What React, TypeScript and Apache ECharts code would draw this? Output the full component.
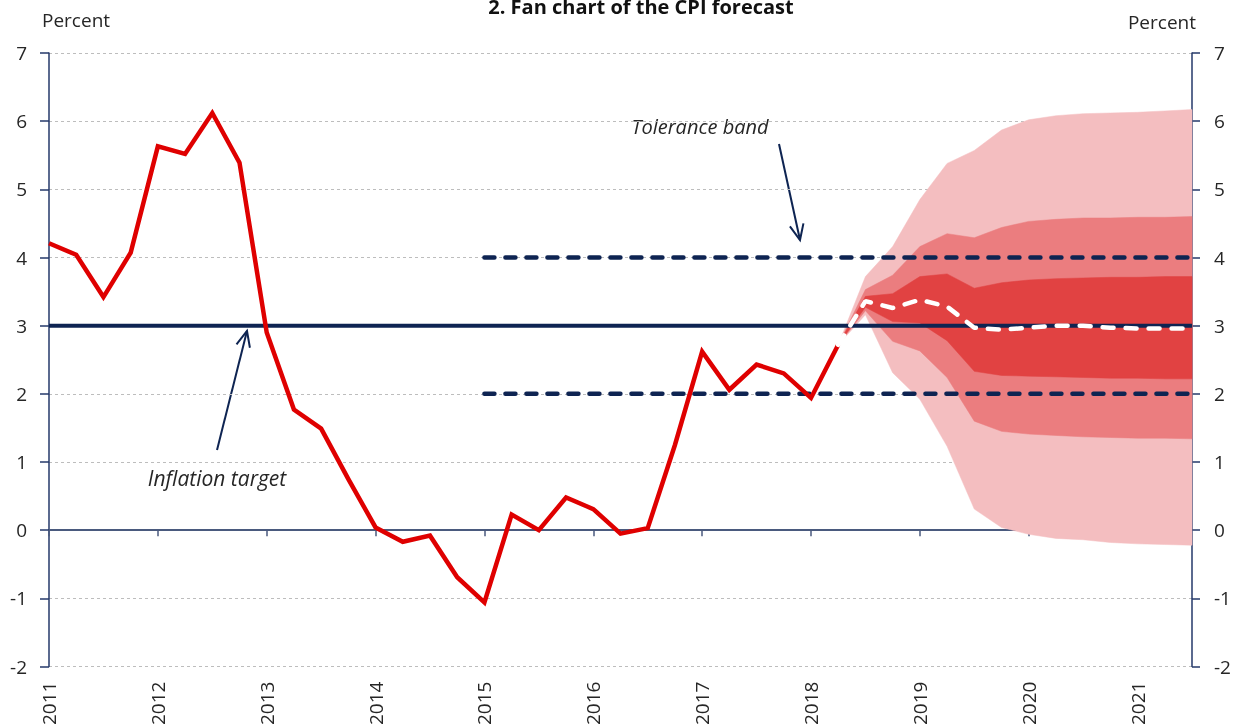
import { useEffect, useRef } from "react";
import * as echarts from "echarts";

// ---- Data ----
const FIRST_YEAR = 2011; // first quarter = 2011 Q1, quarterly data
const LAST_X = 2021.5; // 2021 Q3
const yearTicks = [2011, 2012, 2013, 2014, 2015, 2016, 2017, 2018, 2019, 2020, 2021];

// CPI outcome, 2011Q1 .. 2018Q2
const cpi = [
  4.21, 4.04, 3.42, 4.07, 5.63, 5.52, 6.12, 5.39, 2.9, 1.77, 1.49, 0.75, 0.04, -0.17, -0.08,
  -0.69, -1.06, 0.23, 0.0, 0.48, 0.31, -0.05, 0.03, 1.25, 2.62, 2.06, 2.43, 2.3, 1.94, 2.72,
];

// Forecast & fan bands, 2018Q2 .. 2021Q3
const forecast = [2.72, 3.36, 3.26, 3.38, 3.28, 2.97, 2.94, 2.97, 3.0, 3.0, 2.97, 2.96, 2.96, 2.96];
const outerUpper = [2.72, 3.72, 4.16, 4.85, 5.38, 5.57, 5.87, 6.02, 6.08, 6.11, 6.12, 6.13, 6.15, 6.17];
const midUpper = [2.72, 3.53, 3.74, 4.16, 4.35, 4.29, 4.44, 4.53, 4.56, 4.58, 4.58, 4.59, 4.59, 4.6];
const innerUpper = [2.72, 3.43, 3.47, 3.72, 3.76, 3.55, 3.63, 3.67, 3.69, 3.7, 3.71, 3.71, 3.72, 3.72];
const innerLower = [2.72, 3.27, 3.06, 3.04, 2.78, 2.33, 2.27, 2.26, 2.25, 2.24, 2.23, 2.23, 2.22, 2.22];
const midLower = [2.72, 3.22, 2.77, 2.63, 2.24, 1.6, 1.45, 1.41, 1.39, 1.37, 1.36, 1.35, 1.35, 1.34];
const outerLower = [2.72, 3.16, 2.31, 1.92, 1.23, 0.31, 0.04, -0.06, -0.12, -0.14, -0.18, -0.2, -0.21, -0.22];

const inflationTarget = 3;
const toleranceUpper = 4;
const toleranceLower = 2;
const toleranceStart = 2015;

// ---- Styles ----
const FONT = "'Open Sans', sans-serif";
const NAVY = "#0E2452";
const RED = "#DF0000";
const LIGHT = "#F4BEC0";
const MID = "#EB7D7F";
const DARK = "#E14242";

const qx = (i: number) => FIRST_YEAR + i * 0.25;
const FC_START = cpi.length - 1;

function arrow(x1: number, y1: number, x2: number, y2: number) {
  const dx = x2 - x1;
  const dy = y2 - y1;
  const len = Math.sqrt(dx * dx + dy * dy);
  const ux = dx / len;
  const uy = dy / len;
  const head = 17;
  const ang = (24 * Math.PI) / 180;
  const bx = -ux;
  const by = -uy;
  const w1 = [x2 + head * (bx * Math.cos(ang) - by * Math.sin(ang)), y2 + head * (bx * Math.sin(ang) + by * Math.cos(ang))];
  const w2 = [x2 + head * (bx * Math.cos(-ang) - by * Math.sin(-ang)), y2 + head * (bx * Math.sin(-ang) + by * Math.cos(-ang))];
  return {
    type: "group",
    children: [
      { type: "line", shape: { x1, y1, x2, y2 }, style: { stroke: NAVY, lineWidth: 2 } },
      { type: "polyline", shape: { points: [w1, [x2, y2], w2] }, style: { stroke: NAVY, lineWidth: 2, fill: null } },
    ],
  };
}

export default function App() {
  const ref = useRef<HTMLDivElement>(null);

  useEffect(() => {
    const chart = echarts.init(ref.current!, null, { renderer: "svg" });

    const fcX = forecast.map((_, k) => qx(FC_START + k));
    const fanBands = [
      { upper: outerUpper, lower: outerLower, color: LIGHT },
      { upper: midUpper, lower: midLower, color: MID },
      { upper: innerUpper, lower: innerLower, color: DARK },
    ];

    const axisLabelY = { fontFamily: FONT, fontSize: 19, color: "#262626" };
    const dashStyle = { color: NAVY, width: 4.5, type: [10, 11], cap: "round" };

    chart.setOption({
      animation: false,
      grid: { left: 49, right: 43, top: 53, bottom: 60 },
      xAxis: [
        {
          type: "value",
          min: FIRST_YEAR,
          max: LAST_X,
          interval: 1,
          position: "bottom",
          axisLine: { show: false, onZero: false },
          axisTick: { show: false },
          splitLine: { show: false },
          axisLabel: {
            rotate: 90,
            margin: 15,
            fontFamily: FONT,
            fontSize: 19,
            color: "#262626",
            customValues: yearTicks,
            formatter: (v: number) => String(v),
          },
        },
        {
          type: "value",
          min: FIRST_YEAR,
          max: LAST_X,
          interval: 1,
          position: "top",
          axisLine: { show: true, onZero: true, lineStyle: { color: "#4A5A7E", width: 2 } },
          axisTick: { show: true, inside: true, length: 6, customValues: yearTicks, lineStyle: { color: "#4A5A7E", width: 1.5 } },
          axisLabel: { show: false },
          splitLine: { show: false },
        },
      ],
      yAxis: [
        {
          type: "value",
          min: -2,
          max: 7,
          interval: 1,
          position: "left",
          axisLine: { show: true, onZero: false, lineStyle: { color: "#24396A", width: 1.5 } },
          axisTick: { show: true, length: 9, lineStyle: { color: "#24396A", width: 1.5 } },
          axisLabel: { ...axisLabelY, margin: 22 },
          splitLine: { show: true, lineStyle: { color: "#BDBDBD", width: 1, type: [3, 3] } },
        },
        {
          type: "value",
          min: -2,
          max: 7,
          interval: 1,
          position: "right",
          axisLine: { show: true, onZero: false, lineStyle: { color: "#24396A", width: 1.5 } },
          axisTick: { show: true, length: 8, lineStyle: { color: "#24396A", width: 1.5 } },
          axisLabel: { ...axisLabelY, margin: 22 },
          splitLine: { show: false },
        },
      ],
      series: [
        {
          type: "custom",
          name: "Fan",
          xAxisIndex: 0,
          yAxisIndex: 0,
          silent: true,
          z: 2,
          encode: { x: 0, y: 1 },
          data: fanBands.map((_, b) => [fcX[fcX.length - 1], forecast[forecast.length - 1], b]),
          renderItem: (params: any, api: any) => {
            const band = fanBands[api.value(2)];
            const pts: number[][] = [];
            for (let k = 0; k < fcX.length; k++) pts.push(api.coord([fcX[k], band.upper[k]]));
            for (let k = fcX.length - 1; k >= 0; k--) pts.push(api.coord([fcX[k], band.lower[k]]));
            return {
              type: "polygon",
              shape: { points: pts },
              style: { fill: band.color, stroke: band.color, lineWidth: 0.5 },
            };
          },
        },
        {
          type: "line",
          name: "Inflation target",
          symbol: "none",
          silent: true,
          data: [
            [FIRST_YEAR, inflationTarget],
            [LAST_X, inflationTarget],
          ],
          lineStyle: { color: NAVY, width: 4 },
          z: 3,
        },
        {
          type: "line",
          name: "Tolerance upper",
          symbol: "none",
          silent: true,
          data: [
            [toleranceStart, toleranceUpper],
            [LAST_X, toleranceUpper],
          ],
          lineStyle: dashStyle,
          z: 3,
        },
        {
          type: "line",
          name: "Tolerance lower",
          symbol: "none",
          silent: true,
          data: [
            [toleranceStart, toleranceLower],
            [LAST_X, toleranceLower],
          ],
          lineStyle: dashStyle,
          z: 3,
        },
        {
          type: "line",
          name: "CPI",
          symbol: "none",
          silent: true,
          data: cpi.map((v, i) => [qx(i), v]),
          lineStyle: { color: RED, width: 4.5, join: "miter" },
          z: 4,
        },
        {
          type: "line",
          name: "Forecast",
          symbol: "none",
          silent: true,
          data: forecast.map((v, k) => [fcX[k], v]),
          lineStyle: { color: "#FFFFFF", width: 4.5, type: [11, 12], cap: "round" },
          z: 5,
        },
      ],
      graphic: [
        {
          type: "text",
          x: 641,
          y: -4,
          style: {
            text: "2. Fan chart of the CPI forecast",
            font: `bold 20px ${FONT}`,
            fill: "#111",
            align: "center",
            verticalAlign: "top",
          },
        },
        {
          type: "text",
          x: 42,
          y: 20,
          style: { text: "Percent", font: `19px ${FONT}`, fill: "#262626", align: "left", verticalAlign: "middle" },
        },
        {
          type: "text",
          x: 1196,
          y: 22,
          style: { text: "Percent", font: `19px ${FONT}`, fill: "#262626", align: "right", verticalAlign: "middle" },
        },
        {
          type: "text",
          x: 700,
          y: 126,
          style: { text: "Tolerance band", font: `italic 20px ${FONT}`, fill: "#262626", align: "center", verticalAlign: "middle" },
        },
        {
          type: "text",
          x: 217,
          y: 478,
          style: { text: "Inflation target", font: `italic 21px ${FONT}`, fill: "#262626", align: "center", verticalAlign: "middle" },
        },
        arrow(779, 144, 800, 240),
        arrow(217, 450, 247, 331),
      ],
    });

    return () => chart.dispose();
  }, []);

  return <div ref={ref} style={{ position: "fixed", left: 0, top: 0, width: 1235, height: 728 }} />;
}
